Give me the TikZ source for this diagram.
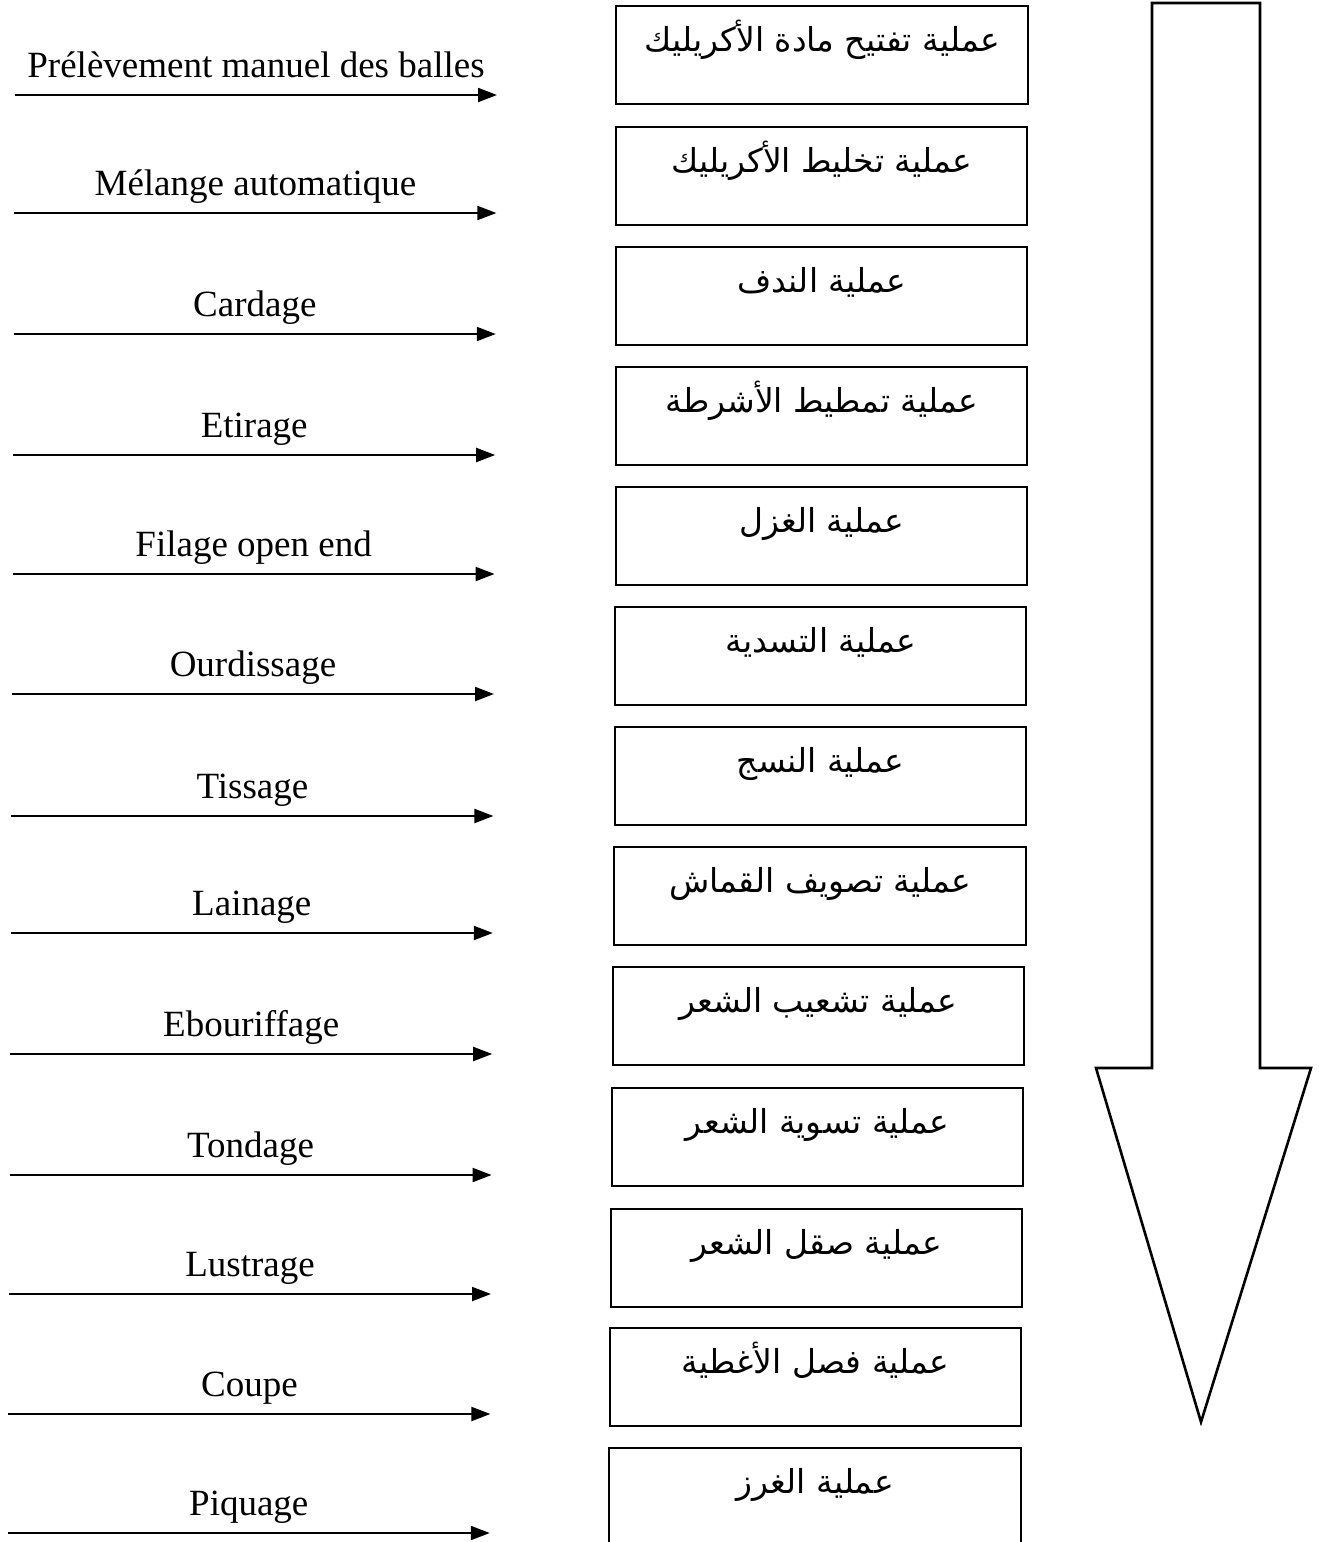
\documentclass[tikz,border=0pt]{standalone}
\usepackage{fontspec}
\setmainfont{Liberation Serif}
\newfontfamily\arabicfont[Script=Arabic]{DejaVu Sans}
\TeXXeTstate=1
\usetikzlibrary{arrows.meta}
\begin{document}
\begin{tikzpicture}[x=1pt,y=-1pt,
  procbox/.style={draw, line width=2.4pt, inner sep=0pt, anchor=north west},
  artext/.style={anchor=base, inner sep=0pt, font=\arabicfont\fontsize{33}{40}\selectfont},
  frtext/.style={anchor=base, inner sep=0pt, font=\fontsize{37}{44}\selectfont},
  flow/.style={line width=2pt, -{Triangle[length=19pt,width=14pt]}},
  bigarrow/.style={draw, line width=2.6pt, line join=miter}
]
\useasboundingbox (0,0) rectangle (1318,1542);
\clip (0,0) rectangle (1318,1542);

% process boxes with Arabic labels
\foreach \i/\t/\l/\r/\txt in {
  1/5/615/1027/{عملية تفتيح مادة الأكريليك},
  2/126/615/1026/{عملية تخليط الأكريليك},
  3/246/615/1026/{عملية الندف},
  4/366/615/1026/{عملية تمطيط الأشرطة},
  5/486/615/1026/{عملية الغزل},
  6/606/614/1025/{عملية التسدية},
  7/726/614/1025/{عملية النسج},
  8/846/613/1025/{عملية تصويف القماش},
  9/966/612/1023/{عملية تشعيب الشعر},
  10/1087/611/1022/{عملية تسوية الشعر},
  11/1208/610/1021/{عملية صقل الشعر},
  12/1327/609/1020/{عملية فصل الأغطية},
  13/1447/608/1020/{عملية الغرز}}{
  \pgfmathsetmacro{\w}{\r-\l}
  \node[procbox, minimum width=\w pt, minimum height=98pt] (b\i) at (\l,\t) {};
  \node[artext] (t\i) at ([yshift=-46pt]b\i.north) {\beginR\txt\endR};
}

% left arrows with French labels
\foreach \i/\y/\txt in {
  0/95/{Prélèvement manuel des balles},
  1/213/{Mélange automatique},
  2/334/{Cardage},
  3/455/{Etirage},
  4/574/{Filage open end},
  5/694/{Ourdissage},
  6/816/{Tissage},
  7/933/{Lainage},
  8/1054/{Ebouriffage},
  9/1175/{Tondage},
  10/1294/{Lustrage},
  11/1414/{Coupe},
  12/1533/{Piquage}}{
  \coordinate (s\i) at (15-0.6*\i,\y);
  \coordinate (e\i) at (497-0.6*\i,\y);
  \draw[flow] (s\i) -- (e\i);
  \node[frtext] (f\i) at (256-0.6*\i,\y-18) {\txt};
}

% big downward arrow
\draw[bigarrow] (1152,3) -- (1260,3) -- (1260,1068) -- (1311,1068)
  -- (1201,1422) -- (1096,1068) -- (1152,1068) -- cycle;
\end{tikzpicture}
\end{document}
